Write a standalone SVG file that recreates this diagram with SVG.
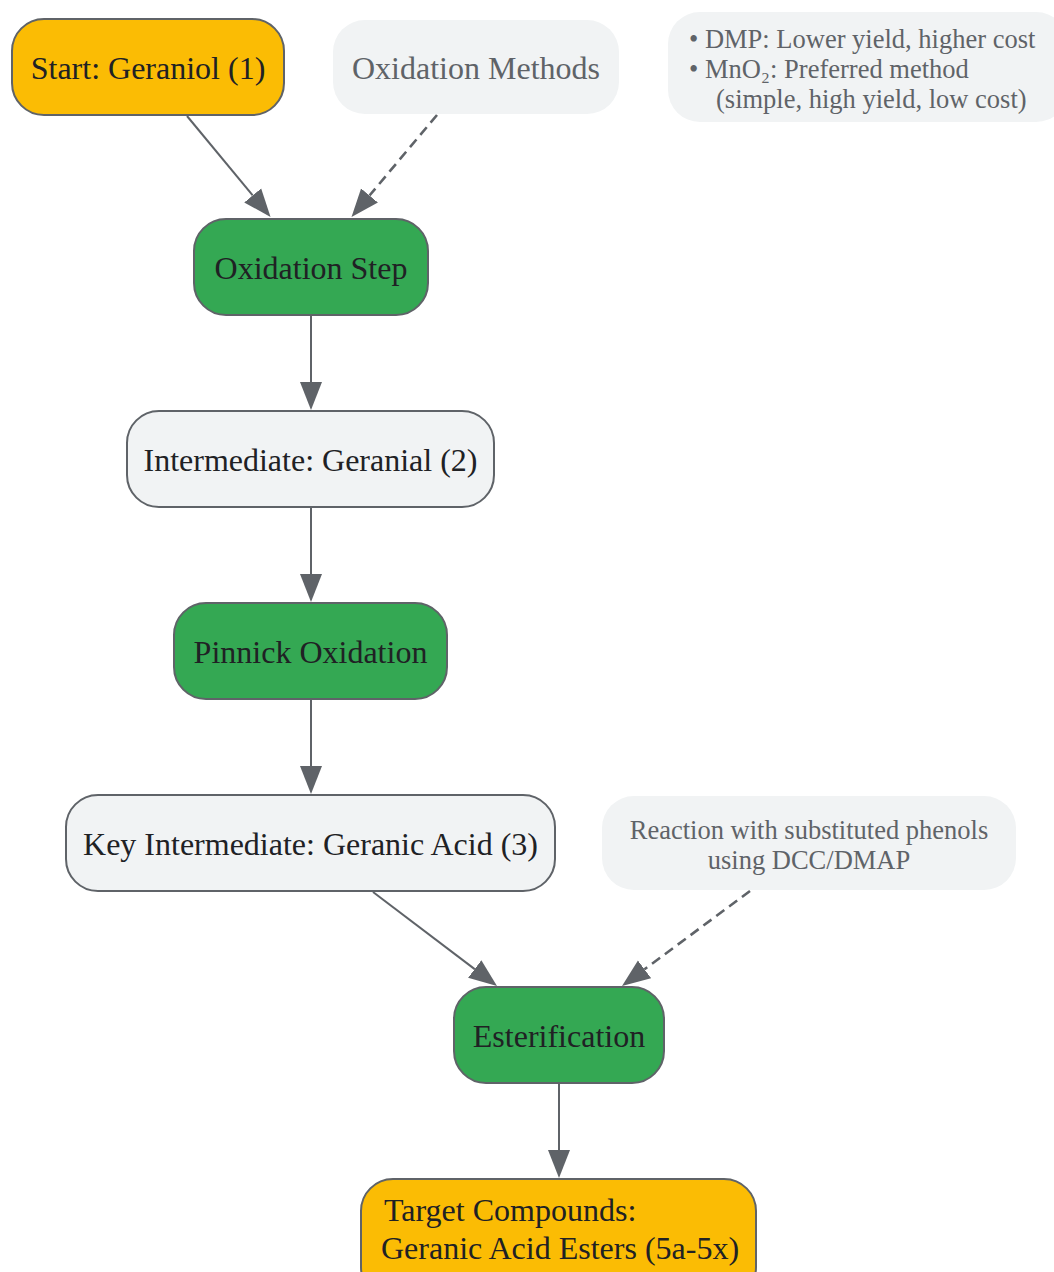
<svg xmlns="http://www.w3.org/2000/svg" width="1054" height="1272" viewBox="0 0 1054 1272">
<style>
.node rect{stroke:#5F6368;stroke-width:2}
.y rect{fill:#FBBC04}
.g rect{fill:#34A853}
.l rect{fill:#F1F3F4}
.note rect{fill:#F1F3F4;stroke:none}
text{font-family:"Liberation Serif","Times New Roman",serif;fill:#202124;font-size:32px}
.note text{fill:#5F6368}
.sm{font-size:26.5px}
.c{text-anchor:middle}
.edge{stroke:#5F6368;stroke-width:2;fill:none}
.dash{stroke-dasharray:10,6;stroke-width:2.6}
</style>
<defs>
<marker id="ah" markerUnits="userSpaceOnUse" markerWidth="28" markerHeight="24" refX="0" refY="12" orient="auto" viewBox="0 0 28 24">
<path d="M0,1 L28,12 L0,23 z" fill="#5F6368"/>
</marker>
</defs>
<rect width="1054" height="1272" fill="#FFFFFF"/>
<g id="connectors">
<line class="edge" x1="187" y1="116" x2="252.7" y2="195.4" marker-end="url(#ah)"/>
<line class="edge dash" x1="437" y1="115" x2="369.5" y2="195.5" marker-end="url(#ah)"/>
<line class="edge" x1="311" y1="316" x2="311" y2="382" marker-end="url(#ah)"/>
<line class="edge" x1="311" y1="508" x2="311" y2="574" marker-end="url(#ah)"/>
<line class="edge" x1="311" y1="700" x2="311" y2="766" marker-end="url(#ah)"/>
<line class="edge" x1="373" y1="892" x2="474.7" y2="969.1" marker-end="url(#ah)"/>
<line class="edge dash" x1="750" y1="891" x2="644.5" y2="969.3" marker-end="url(#ah)"/>
<line class="edge" x1="559" y1="1084" x2="559" y2="1150" marker-end="url(#ah)"/>
</g>
<g id="start" class="node y">
<rect x="12" y="19" width="272" height="96" rx="32"/>
<text class="c" x="148" y="79">Start: Geraniol (1)</text>
</g>
<g id="oxidation-methods" class="note">
<rect x="333" y="20" width="286" height="94" rx="32"/>
<text class="c" x="476" y="79">Oxidation Methods</text>
</g>
<g id="methods-detail" class="note">
<rect x="668" y="12" width="400" height="110" rx="32"/>
<text class="sm" x="689" y="48">• DMP: Lower yield, higher cost</text>
<text class="sm" x="689" y="78">• MnO₂: Preferred method</text>
<text class="sm" x="716" y="108">(simple, high yield, low cost)</text>
</g>
<g id="oxidation-step" class="node g">
<rect x="194" y="219" width="234" height="96" rx="32"/>
<text class="c" x="311" y="279">Oxidation Step</text>
</g>
<g id="geranial" class="node l">
<rect x="127" y="411" width="367" height="96" rx="32"/>
<text class="c" x="310.5" y="471">Intermediate: Geranial (2)</text>
</g>
<g id="pinnick" class="node g">
<rect x="174" y="603" width="273" height="96" rx="32"/>
<text class="c" x="310.5" y="663">Pinnick Oxidation</text>
</g>
<g id="geranic-acid" class="node l">
<rect x="66" y="795" width="489" height="96" rx="32"/>
<text class="c" x="310.5" y="855">Key Intermediate: Geranic Acid (3)</text>
</g>
<g id="reaction-note" class="note">
<rect x="602" y="796" width="414" height="94" rx="32"/>
<text class="c sm" x="809" y="839">Reaction with substituted phenols</text>
<text class="c sm" x="809" y="869">using DCC/DMAP</text>
</g>
<g id="esterification" class="node g">
<rect x="454" y="987" width="210" height="96" rx="32"/>
<text class="c" x="559" y="1047">Esterification</text>
</g>
<g id="target" class="node y">
<rect x="361" y="1179" width="395" height="120" rx="32"/>
<text x="384" y="1221">Target Compounds:</text>
<text x="381" y="1259">Geranic Acid Esters (5a-5x)</text>
</g>
</svg>
